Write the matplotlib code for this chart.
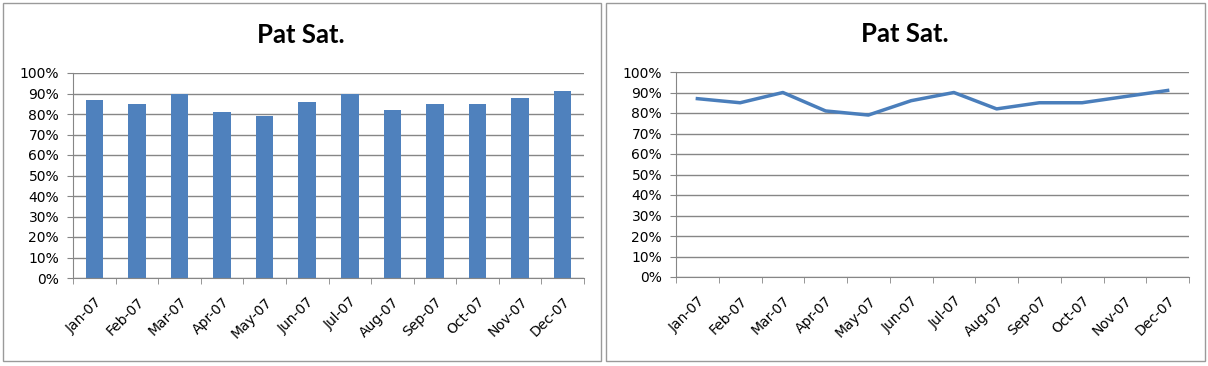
import matplotlib
matplotlib.use("Agg")
import matplotlib.pyplot as plt
import numpy as np
from matplotlib.patches import Rectangle
from matplotlib.ticker import FixedLocator, PercentFormatter

months = ["Jan-07", "Feb-07", "Mar-07", "Apr-07", "May-07", "Jun-07",
          "Jul-07", "Aug-07", "Sep-07", "Oct-07", "Nov-07", "Dec-07"]
pat_sat = [0.87, 0.85, 0.90, 0.81, 0.79, 0.86, 0.90, 0.82, 0.85, 0.85, 0.88, 0.91]
title = "Pat Sat."

plt.rcParams['font.family'] = ['DejaVu Sans']

W, H = 1208, 366
fig = plt.figure(figsize=(W / 100, H / 100), dpi=100)


def px_box(x0, y0, x1, y1):
    # pixel box (top-left origin) -> figure fraction rect
    return [x0 / W, 1 - y1 / H, (x1 - x0) / W, (y1 - y0) / H]


def panel(x0, y0, x1, y1):
    l, b, w, h = px_box(x0, y0, x1, y1)
    fig.patches.append(Rectangle((l, b), w, h, transform=fig.transFigure,
                                 fill=False, edgecolor="#9a9a9a", linewidth=1.0))


def style_axes(ax):
    x = np.arange(len(months))
    ax.set_xlim(-0.5, len(months) - 0.5)
    ax.set_ylim(0, 1.0)
    ax.set_yticks(np.arange(0, 1.01, 0.1))
    ax.yaxis.set_major_formatter(PercentFormatter(1.0, decimals=0))
    ax.yaxis.grid(True, color="#868686", linewidth=1.0)
    ax.set_axisbelow(True)
    ax.set_xticks(x)
    ax.set_xticklabels(months, rotation=45, ha="right", va="top",
                       rotation_mode="anchor")
    ax.xaxis.set_minor_locator(FixedLocator(np.arange(-0.5, len(months), 1.0)))
    ax.tick_params(axis="x", which="major", length=0, pad=12, labelsize=10)
    ax.tick_params(axis="x", which="minor", length=4, color="#868686", direction="out")
    ax.tick_params(axis="y", length=4, color="#868686", labelsize=10, pad=6)
    for s in ("top", "right"):
        ax.spines[s].set_visible(False)
    for s in ("left", "bottom"):
        ax.spines[s].set_color("#868686")


panel(3, 3, 601, 361)
panel(606, 3, 1205, 361)

ax1 = fig.add_axes(px_box(73, 73, 584, 278))
ax1.bar(np.arange(len(months)), pat_sat, width=0.41, color="#4F81BD", zorder=2)
style_axes(ax1)
fig.text(301 / W, 1 - 35 / H, title, ha="center", va="center",
         fontsize=18.5, fontweight="bold", family=["Lato", "DejaVu Sans"])

ax2 = fig.add_axes(px_box(676, 72, 1189, 277))
ax2.plot(np.arange(len(months)), pat_sat, color="#4A7EBB", linewidth=2.5,
         solid_joinstyle="round", zorder=3)
style_axes(ax2)
fig.text(905 / W, 1 - 34 / H, title, ha="center", va="center",
         fontsize=18.5, fontweight="bold", family=["Lato", "DejaVu Sans"])

fig.savefig("out.png", dpi=100)
